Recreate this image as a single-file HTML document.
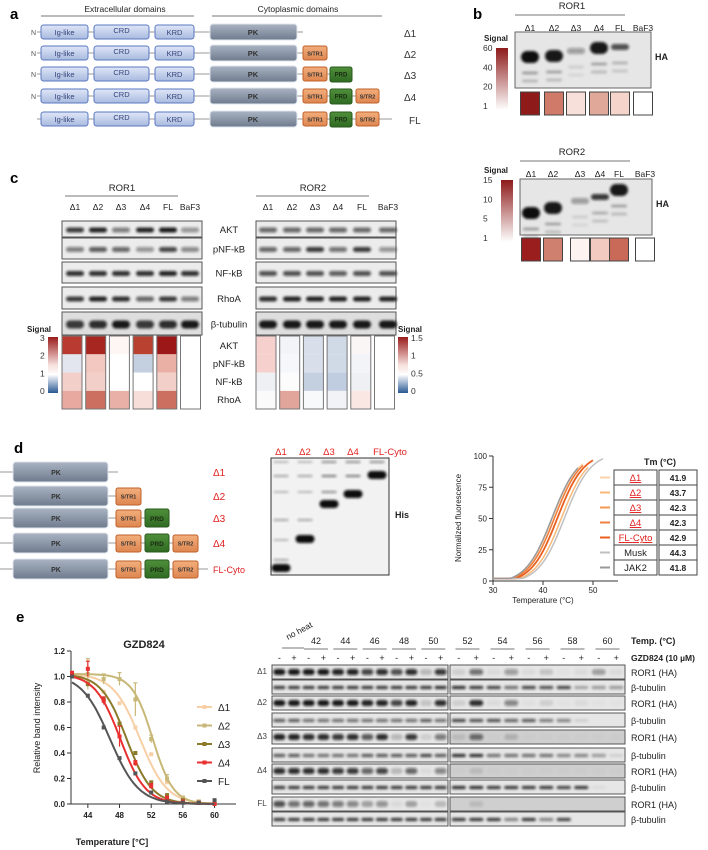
<!DOCTYPE html>
<html><head><meta charset="utf-8"><style>
html,body{margin:0;padding:0;background:#fff}
svg{display:block;font-family:"Liberation Sans",sans-serif}
</style></head><body>
<svg id="fig" width="708" height="850" viewBox="0 0 708 850">
<defs>
<linearGradient id="gBlue" x1="0" y1="0" x2="0" y2="1"><stop offset="0" stop-color="#dfe6f7"/><stop offset="1" stop-color="#a9badf"/></linearGradient>
<linearGradient id="gPK" x1="0" y1="0" x2="0" y2="1"><stop offset="0" stop-color="#a9b3c2"/><stop offset="1" stop-color="#6f7b8e"/></linearGradient>
<linearGradient id="gOr" x1="0" y1="0" x2="0" y2="1"><stop offset="0" stop-color="#f2ae7c"/><stop offset="1" stop-color="#de8650"/></linearGradient>
<linearGradient id="gGr" x1="0" y1="0" x2="0" y2="1"><stop offset="0" stop-color="#4f8f3a"/><stop offset="1" stop-color="#2f6a22"/></linearGradient>
<linearGradient id="gRed" x1="0" y1="0" x2="0" y2="1"><stop offset="0" stop-color="#8e1a1a"/><stop offset="1" stop-color="#ffffff"/></linearGradient>
<linearGradient id="gDiv" x1="0" y1="0" x2="0" y2="1"><stop offset="0" stop-color="#9a1c1c"/><stop offset="0.5" stop-color="#f6e0dc"/><stop offset="0.67" stop-color="#ffffff"/><stop offset="1" stop-color="#2a5a94"/></linearGradient>
<filter id="blur" x="-30%" y="-100%" width="160%" height="300%"><feGaussianBlur stdDeviation="1.2"/></filter>
</defs>
</svg>
<script>
// ---------- data ----------
const bLanes = ['Δ1','Δ2','Δ3','Δ4','FL','BaF3'];
const bRor1Colors = ['#8e1a1a','#d07a6a','#f8e0da','#e0a898','#f5d4cc','#ffffff'];
const bRor2Colors = ['#9a1e1e','#d0806e','#fdf4f2','#f3cac0','#c96a58','#ffffff'];
const bRor1BandY = [57,56,51,48,47,0];
const bRor1BandI = [1,0.95,0.35,0.95,0.7,0];
const bRor2BandY = [213,208,201,197,190,0];
const bRor2BandI = [1,0.95,0.35,0.8,0.95,0];
const cRows = ['AKT','pNF-kB','NF-kB','RhoA','β-tubulin'];
const cRor1Bands = [[0.8,0.9,0.5,0.9,0.95,0.4],[0.5,0.65,0.6,0.4,0.75,0.45],[0.85,0.85,0.85,0.85,0.9,0.85],[0.8,0.9,0.85,0.6,0.8,0.5],[0.8,0.85,0.95,0.8,0.85,0.95]];
const cRor2Bands = [[0.6,0.6,0.6,0.6,0.6,0.6],[0.6,0.6,0.8,0.55,0.8,0.4],[0.7,0.7,0.7,0.65,0.7,0.7],[0.85,0.9,0.9,0.9,0.9,0.9],[0.95,0.95,0.95,0.95,0.95,0.95]];
const cHeatRor1 = [['#b83a30','#e3e6ee','#f2cfc8','#e8aaa0'],['#a82620','#f2c8c0','#f2cfc8','#cc6e60'],['#fdf6f5','#ffffff','#ffffff','#e8b0a6'],['#b8422f','#c4cfe0','#ffffff','#f7ded8'],['#9c1818','#eab0a6','#f2cfc8','#cc6e60'],['#ffffff','#ffffff','#ffffff','#ffffff']];
const cHeatRor2 = [['#f5d0cc','#f5d0cc','#eef0f4','#fafafa'],['#f2f4f8','#f6f7fa','#fcfcfd','#e2a59c'],['#d8dfea','#d8dfea','#c4cfe0','#f8f9fb'],['#d0d9e6','#d0d9e6','#c0cce0','#f1f3f7'],['#fbf6f6','#f3f4f8','#eef0f4','#fae7e4'],['#ffffff','#ffffff','#ffffff','#ffffff']];
const dLabels = ['Δ1','Δ2','Δ3','Δ4','FL-Cyto'];
const dGelY = [568,539,504,494,475];
const tmNames = ['Δ1','Δ2','Δ3','Δ4','FL-Cyto','Musk','JAK2'];
const tmValues = [41.9,43.7,42.3,42.3,42.9,44.3,41.8];
const tmEnd = [48,49,47,48,50,52,47];
const eTemps = [42,44,46,48,50,52,54,56,58,60];
const eNames = ['Δ1','Δ2','Δ3','Δ4','FL'];
const eD1 = [1.0,0.96,0.88,0.79,0.60,0.39,0.17,0.05,0.02,0.0];
const eD2 = [1.02,1.02,0.98,0.98,0.82,0.51,0.20,0.05,0.02,0.01];
const eD3 = [1.0,0.94,0.82,0.63,0.40,0.17,0.07,0.03,0.01,0.0];
const eD4 = [1.02,1.06,0.81,0.53,0.32,0.14,0.05,0.02,0.01,0.0];
const eFL = [1.0,0.85,0.60,0.36,0.24,0.09,0.02,0.01,0.01,0.03];
const eFitTm = [50.6,52.2,48.9,48.1,46.8];
const eFitSlope = [1.7,1.3,1.6,1.6,1.8];
const eErrD2 = [0.02,0.12,0.04,0.05,0.13,0.03,0.03,0.01,0.01,0.01];
const eErrD4 = [0.02,0.06,0.03,0.08,0.02,0.02,0.01,0.01,0.01,0.01];
const eYTicks = ['0.0','0.2','0.4','0.6','0.8','1.0','1.2'];
const eXTicks = [44,48,52,56,60];
const blotTemps = ['42','44','46','48','50','52','54','56','58','60'];
const blotHA = [
 [.95,.95,.95,.95,.9,.9,.75,.85,.7,.85,.2,.8,.1,.55,.05,.35,.05,.15,.02,.05,.3,.05],
 [.95,.95,.95,.95,.95,.95,.9,.9,.75,.9,.15,.85,.1,.85,.05,.45,.03,.1,.02,.05,.02,.02],
 [.9,.9,.85,.85,.8,.85,.65,.85,.2,.8,.1,.5,.1,.55,.02,.15,.02,.02,.02,.02,.02,.02],
 [.85,.85,.85,.85,.8,.8,.6,.75,.2,.6,.05,.45,.02,.1,.02,.02,.02,.02,.02,.02,.02,.02],
 [.7,.55,.6,.55,.5,.45,.3,.4,.05,.3,.02,.2,0,.1,0,0,0,0,0,0,0,0]];
const blotTub = [
 [.85,.85,.85,.85,.85,.85,.85,.85,.85,.85,.85,.9,.9,.85,.8,.6,.8,.75,.8,.3,.4,.4],
 [.7,.7,.6,.6,.6,.6,.6,.6,.6,.6,.7,.6,.8,.75,.75,.65,.7,.55,.5,.1,0,0],
 [.7,.7,.6,.6,.6,.6,.7,.7,.7,.7,.8,.7,.9,.9,.6,.6,.6,.6,.5,.5,.4,.1],
 [.85,.85,.85,.85,.85,.85,.85,.85,.85,.85,.85,.85,.9,.9,.85,.85,.85,.85,.8,.85,.05,0],
 [.85,.85,.85,.85,.85,.85,.85,.85,.85,.85,.85,.85,.85,.85,.85,.5,.85,.5,.8,0,0,0]];

// ---------- helpers ----------
const NS='http://www.w3.org/2000/svg';
const svg=document.getElementById('fig');
function mk(tag,attrs,name,parent){
 const el=document.createElementNS(NS,tag);
 for(const k in attrs) el.setAttribute(k,attrs[k]);
 
 
 (parent||svg).appendChild(el); return el;
}
function tx(x,y,s,o,name){const el=mk('text',Object.assign({x:x,y:y,'font-size':9,fill:'#222'},o||{}),name||'label');el.textContent=s;return el;}
function line(x1,y1,x2,y2,st,w,name){return mk('line',{x1,y1,x2,y2,stroke:st||'#777','stroke-width':w||1},name||'line');}
function rect(x,y,w,h,f,s,name,rx){return mk('rect',{x,y,width:w,height:h,fill:f,stroke:s||'none','stroke-width':s?1:0,rx:rx||0},name||'rect');}
function band(cx,cy,w,h,i,name){ if(i<=0.01) return; mk('rect',{x:cx-w/2,y:cy-h/2,width:w,height:h,rx:h/2,fill:'#111','fill-opacity':i,filter:'url(#blur)'},name||'band');}

// ---------- panel a ----------
tx(10,19,'a',{'font-size':15,'font-weight':'bold',fill:'#000'},'panel-a-label');
tx(125,12,'Extracellular domains',{'text-anchor':'middle','font-size':8.5},'extracellular-header');
line(41,16,194,16,'#777',1,'extracellular-rule');
tx(298,12,'Cytoplasmic domains',{'text-anchor':'middle','font-size':8.5},'cytoplasmic-header');
line(212,16,382,16,'#777',1,'cytoplasmic-rule');
const aRowsY=[32,53,74,96,119]; const aLab=['Δ1','Δ2','Δ3','Δ4','FL'];
aRowsY.forEach((y,i)=>{
 if(i<4){tx(31,y+3,'N',{'font-size':7,fill:'#555'},'n-terminus');}
 line(37,y,[303,303,330,356,392][i],y,'#999',1,'backbone');
 [['Ig-like',41,47],['CRD',94,55],['KRD',155,39]].forEach(d=>{
  rect(d[1],y-7,d[2],14,'url(#gBlue)','#5a78c0','domain-'+d[0].toLowerCase(),2.5);
  tx(d[1]+d[2]/2,y+(d[0]==='CRD'?1:3),d[0],{'text-anchor':'middle','font-size':7.5,fill:'#33447a'},'domain-label');
 });
 rect(210,y-8,87,16,'url(#gPK)','#dfe4ec','domain-pk',3);
 tx(253,y+3,'PK',{'text-anchor':'middle','font-size':7.5,'font-weight':'bold',fill:'#333'},'pk-label');
 if(i>=1){rect(303,y-7,24,14,'url(#gOr)','#c0602a','domain-str1',2);tx(315,y+2.5,'S/TR1',{'text-anchor':'middle','font-size':5.5,'font-weight':'bold',fill:'#333'},'str1-label');}
 if(i>=2){rect(330,y-7,22,15,'url(#gGr)','#2a5a1e','domain-prd',2);tx(341,y+2.5,'PRD',{'text-anchor':'middle','font-size':6,'font-weight':'bold',fill:'#1a2a12'},'prd-label');}
 if(i>=3){rect(356,y-7,23,14,'url(#gOr)','#c0602a','domain-str2',2);tx(367.5,y+2.5,'S/TR2',{'text-anchor':'middle','font-size':5.5,'font-weight':'bold',fill:'#333'},'str2-label');}
 tx(i===4?409:404,y+5,aLab[i],{'font-size':10,fill:'#333'},'construct-label');
});
// ---------- panel b ----------
tx(473,19,'b',{'font-size':15,'font-weight':'bold',fill:'#000'},'panel-b-label');
function bPanel(top,lab,lanesX,colors,bandY,bandI,boxX,boxW,boxY,boxH,sqY,barY,barH,ticks,nameP){
 tx(572,top,lab,{'text-anchor':'middle','font-size':9.5},nameP+'-title');
 line(boxX,top+6,boxX+110,top+6,'#777',1,nameP+'-rule');
 lanesX.forEach((x,i)=>tx(x,top+22,bLanes[i],{'text-anchor':'middle','font-size':8.5},nameP+'-lane-label'));
 rect(boxX,boxY,boxW,boxH,'#e6e6e6','#666',nameP+'-blot');
 lanesX.forEach((x,i)=>{
  if(bandI[i]>0){band(x,bandY[i],18,bandI[i]>0.9?12:6,bandI[i],nameP+'-band');
   band(x,bandY[i]+16,16,3,bandI[i]*0.3,nameP+'-minor-band');band(x,bandY[i]+24,16,3,bandI[i]*0.2,nameP+'-minor-band');}
  rect(x-9.5,sqY,19,23,colors[i],'#444',nameP+'-heat-'+i);
 });
 tx(boxX+boxW+4,boxY+boxH/2,'HA',{'font-size':9,'font-weight':'bold'},nameP+'-ha-label');
 rect(boxX-19,barY,12,barH,'url(#gRed)',null,nameP+'-colorbar');
 tx(484,barY-7,'Signal',{'font-size':8,'font-weight':'bold'},nameP+'-signal-title');
 ticks.forEach((t,k)=>tx(483,barY+3+k*(barH-4)/(ticks.length-1),t,{'font-size':8.5,fill:'#333'},nameP+'-colorbar-tick'));
}
bPanel(9,'ROR1',[530,554,576,599,620,643],bRor1Colors,bRor1BandY,bRor1BandI,515,136,32,56,92,48,62,['60','40','20','1'],'ror1');
bPanel(155,'ROR2',[531,553,580,600,619,645],bRor2Colors,bRor2BandY,bRor2BandI,520,132,179,56,238,180,62,['15','10','5','1'],'ror2');

// ---------- panel c ----------
tx(10,183,'c',{'font-size':15,'font-weight':'bold',fill:'#000'},'panel-c-label');
const cRowTop=[221,238,262,287,312], cRowH=[16,21,21,22,23];
function cBlock(x0,lanes,bands,heat,title,titleX,nm){
 tx(titleX,191,title,{'text-anchor':'middle','font-size':9.5},nm+'-title');
 line(titleX-57,196,titleX+56,196,'#777',1,nm+'-rule');
 lanes.forEach((lx,i)=>tx(lx,210,bLanes[i],{'text-anchor':'middle','font-size':8.5},nm+'-lane-label'));
 cRows.forEach((r,j)=>{
  rect(x0,cRowTop[j],140,cRowH[j],j===4?'#dedede':'#ececec','#555',nm+'-blot-'+j);
  lanes.forEach((lx,i)=>band(lx,cRowTop[j]+cRowH[j]/2+1,18,j===4?8:5,bands[j][i],nm+'-band'));
 });
 [0,1,2,3,4,5].forEach(i=>{
  const cx=x0+i*23.7;
  heat[i].forEach((c,k)=>rect(cx,336+k*18.3,20,18.3,c,null,nm+'-heat-cell'));
  rect(cx,336,20,73,'none','#777',nm+'-heat-col');
 });
}
cBlock(62,[75,98,121,145,168,190],cRor1Bands,cHeatRor1,'ROR1',122,'c-ror1');
cBlock(256,[268,292,315,338,362,388],cRor2Bands,cHeatRor2,'ROR2',313,'c-ror2');
cRows.forEach((r,j)=>tx(229,cRowTop[j]+cRowH[j]/2+4,r,{'text-anchor':'middle','font-size':9.5},'c-row-label'));
['AKT','pNF-kB','NF-kB','RhoA'].forEach((r,k)=>tx(229,349+k*18,r,{'text-anchor':'middle','font-size':9.5},'c-heat-row-label'));
rect(48,337,10,56,'url(#gDiv)',null,'c-left-colorbar');
tx(27,332,'Signal',{'font-size':8,'font-weight':'bold'},'c-left-signal-title');
['3','2','1','0'].forEach((t,k)=>tx(40,341+k*17.7,t,{'font-size':8.5,fill:'#333'},'c-left-tick'));
rect(398,337,10,56,'url(#gDiv)',null,'c-right-colorbar');
tx(398,332,'Signal',{'font-size':8,'font-weight':'bold'},'c-right-signal-title');
['1.5','1','0.5','0'].forEach((t,k)=>tx(411,341+k*17.7,t,{'font-size':8.5,fill:'#333'},'c-right-tick'));

// ---------- panel d ----------
tx(14,453,'d',{'font-size':15,'font-weight':'bold',fill:'#000'},'panel-d-label');
const dRowsY=[472,496,518,543,569];
dRowsY.forEach((y,i)=>{
 line(0,y,[118,116,145,173,208][i],y,'#999',1,'d-backbone');
 rect(13,y-10,95,20,'url(#gPK)','#dfe4ec','d-domain-pk',3);
 tx(56,y+3,'PK',{'text-anchor':'middle','font-size':7,'font-weight':'bold',fill:'#333'},'d-pk-label');
 if(i>=1){rect(116,y-8,25,17,'url(#gOr)','#c0602a','d-domain-str1',2);tx(128.5,y+2.5,'S/TR1',{'text-anchor':'middle','font-size':5.5,'font-weight':'bold',fill:'#333'},'d-str1-label');}
 if(i>=2){rect(145,y-9,24,18,'url(#gGr)','#2a5a1e','d-domain-prd',2);tx(157,y+3,'PRD',{'text-anchor':'middle','font-size':6.5,'font-weight':'bold',fill:'#1a2a12'},'d-prd-label');}
 if(i>=3){rect(173,y-8,25,17,'url(#gOr)','#c0602a','d-domain-str2',2);tx(185.5,y+2.5,'S/TR2',{'text-anchor':'middle','font-size':5.5,'font-weight':'bold',fill:'#333'},'d-str2-label');}
 tx(213,y+4,dLabels[i],{'font-size':i===4?9:10,fill:'#e02020'},'d-construct-label');
});
rect(271,458,118,117,'#f2f2f2','#333','d-gel');
const dLaneX=[281,305,329,353,377];
dLaneX.forEach((x,i)=>{
 tx(i===4?390:x,455,dLabels[i],{'text-anchor':'middle','font-size':9.5,fill:'#e02020'},'d-gel-lane-label');
 band(x,dGelY[i],19,8,1,'d-gel-main-band');
 [462,476,492,520,540,560].forEach((yy,k)=>{ if(yy<dGelY[i]-6) band(x,yy,15,2,0.25+0.1*(k%2)+(i>=2?0.2:0),'d-gel-minor-band');});
});
tx(395,518,'His',{'font-size':9,'font-weight':'bold'},'d-his-label');
const dx=t=>493+(t-30)*5, dy=v=>581-v*1.25;
line(493,456,493,581,'#333',1,'d-y-axis');
line(493,581,618,581,'#333',1,'d-x-axis');
[0,25,50,75,100].forEach(v=>{line(489,dy(v),493,dy(v),'#333',1,'d-y-tick');tx(487,dy(v)+3,String(v),{'text-anchor':'end','font-size':8},'d-y-tick-label');});
[30,40,50].forEach(t=>{line(dx(t),581,dx(t),585,'#333',1,'d-x-tick');tx(dx(t),593,String(t),{'text-anchor':'middle','font-size':8},'d-x-tick-label');});
tx(543,603,'Temperature (°C)',{'text-anchor':'middle','font-size':8},'d-x-axis-title');
tx(0,0,'Normalized fluorescence',{'text-anchor':'middle','font-size':8,transform:'translate(461,518) rotate(-90)'},'d-y-axis-title');
const tmColors=['#fcd3a8','#f8b878','#f49a50','#ee8040','#e86020','#c0c0c0','#999999'];
tmValues.forEach((tm,i)=>{
 let d='';
 for(let t=30;t<=tmEnd[i];t+=0.5){const v=Math.min(100,100/(1+Math.exp((tm-t)/2.6))*1.05-2);d+=(d?'L':'M')+dx(t).toFixed(1)+','+dy(Math.max(v,2)).toFixed(1);}
 mk('path',{d:d,fill:'none',stroke:tmColors[i],'stroke-width':i===4?1.8:1.5},'d-melt-curve-'+i);
});
tx(660,465,'Tm (°C)',{'text-anchor':'middle','font-size':9,'font-weight':'bold'},'d-table-header');
tmNames.forEach((n,i)=>{
 const y=470+i*15;
 line(600,y+7.5,610,y+7.5,tmColors[i],2,'d-legend-swatch');
 rect(614,y,43,15,'#fff','#444','d-table-name-cell');
 rect(659,y,38,15,'#fff','#444','d-table-value-cell');
 tx(635.5,y+11,n,{'text-anchor':'middle','font-size':9.5,fill:i<5?'#e02020':'#222','text-decoration':i<5?'underline':'none'},'d-table-name');
 tx(678,y+11,tmValues[i].toFixed(1),{'text-anchor':'middle','font-size':8.5,'font-weight':'bold'},'d-table-value');
});

// ---------- panel e chart ----------
tx(16,622,'e',{'font-size':15,'font-weight':'bold',fill:'#000'},'panel-e-label');
const ex=t=>72+(t-42)*7.92, ey=v=>804-v*127.5;
tx(144,648,'GZD824',{'text-anchor':'middle','font-size':11,'font-weight':'bold'},'e-chart-title');
line(71,651,71,804,'#333',1,'e-y-axis');
line(71,804,236,804,'#333',1,'e-x-axis');
eYTicks.forEach(s=>{const v=parseFloat(s);line(67,ey(v),71,ey(v),'#333',1,'e-y-tick');tx(65,ey(v)+3,s,{'text-anchor':'end','font-size':8,'font-weight':'bold'},'e-y-tick-label');});
eXTicks.forEach(t=>{line(ex(t),804,ex(t),808,'#333',1,'e-x-tick');tx(ex(t),818,String(t),{'text-anchor':'middle','font-size':8,'font-weight':'bold'},'e-x-tick-label');});
tx(112,845,'Temperature [°C]',{'text-anchor':'middle','font-size':9,'font-weight':'bold'},'e-x-axis-title');
tx(0,0,'Relative band intensity',{'text-anchor':'middle','font-size':9,transform:'translate(40,728) rotate(-90)'},'e-y-axis-title');
const eSeries=[eD1,eD2,eD3,eD4,eFL], eColors=['#f7cfa6','#c8b878','#8a7a2a','#e83030','#555555'];
const eErrs=[null,eErrD2,null,eErrD4,null];
eSeries.forEach((s,si)=>{
 let d='';
 for(let t=42;t<=60;t+=0.25){const v=1.02/(1+Math.exp((t-eFitTm[si])/eFitSlope[si]));d+=(d?'L':'M')+ex(t).toFixed(1)+','+ey(v).toFixed(1);}
 mk('path',{d:d,fill:'none',stroke:eColors[si],'stroke-width':2},'e-curve-'+eNames[si]);
 s.forEach((v,i)=>{
  const px=ex(eTemps[i]), py=ey(v);
  if(eErrs[si]){const e=eErrs[si][i];line(px,ey(v+e),px,ey(v-e),eColors[si],1.2,'e-error-bar');line(px-2,ey(v+e),px+2,ey(v+e),eColors[si],1.2,'e-error-cap');}
  rect(px-2,py-2,4,4,eColors[si],null,'e-point');
 });
 const ly=707+si*18.5;
 line(197,ly,212,ly,eColors[si],2,'e-legend-line');
 rect(202.5,ly-2,4,4,eColors[si],null,'e-legend-marker');
 tx(218,ly+4,eNames[si],{'font-size':10},'e-legend-label');
});

// ---------- panel e blots ----------
tx(0,0,'no heat',{'font-size':8.5,transform:'translate(288,640) rotate(-28)'},'e-noheat-label');
line(282,648,304,648,'#777',1,'e-noheat-rule');
const leftW=176/12, rightW=175/10;
const laneX=k=> k<12 ? 272+leftW*(k+0.5) : 450+rightW*(k-12+0.5);
blotTemps.forEach((t,i)=>{
 const cx=(laneX(2*i+2)+laneX(2*i+3))/2;
 tx(cx,644,t,{'text-anchor':'middle','font-size':9},'e-temp-label');
 line(cx-12,649,cx+12,649,'#777',1,'e-temp-rule');
});
for(let k=0;k<22;k++) tx(laneX(k),661,k%2?'+':'-',{'text-anchor':'middle','font-size':9},'e-drug-sign');
tx(631,644,'Temp. (°C)',{'font-size':9,'font-weight':'bold'},'e-temp-title');
tx(631,661,'GZD824 (10 µM)',{'font-size':8.5,'font-weight':'bold'},'e-drug-title');
const haTop=[665,696,730,764,797], tubTop=[680,713,748,780,812];
['Δ1','Δ2','Δ3','Δ4','FL'].forEach((n,r)=>{
 tx(262,haTop[r]+9,n,{'text-anchor':'middle','font-size':8,fill:'#444'},'e-blot-construct-label');
 const hb=r>=2?'#cfcfcf':'#e6e6e6';
 rect(272,haTop[r],176,14,'#e6e6e6','#555','e-ha-blot-left');
 rect(450,haTop[r],175,14,hb,'#555','e-ha-blot-right');
 rect(272,tubTop[r],176,14,'#e6e6e6','#555','e-tub-blot-left');
 rect(450,tubTop[r],175,14,'#e6e6e6','#555','e-tub-blot-right');
 for(let k=0;k<22;k++){
  band(laneX(k),haTop[r]+7,k<12?12:14,6,blotHA[r][k],'e-ha-band');
  band(laneX(k),tubTop[r]+7.5,k<12?12:14,3,blotTub[r][k],'e-tub-band');
 }
 tx(631,haTop[r]+11,'ROR1 (HA)',{'font-size':9},'e-ha-row-label');
 tx(631,tubTop[r]+11,'β-tubulin',{'font-size':9},'e-tub-row-label');
});
</script>
</body></html>
